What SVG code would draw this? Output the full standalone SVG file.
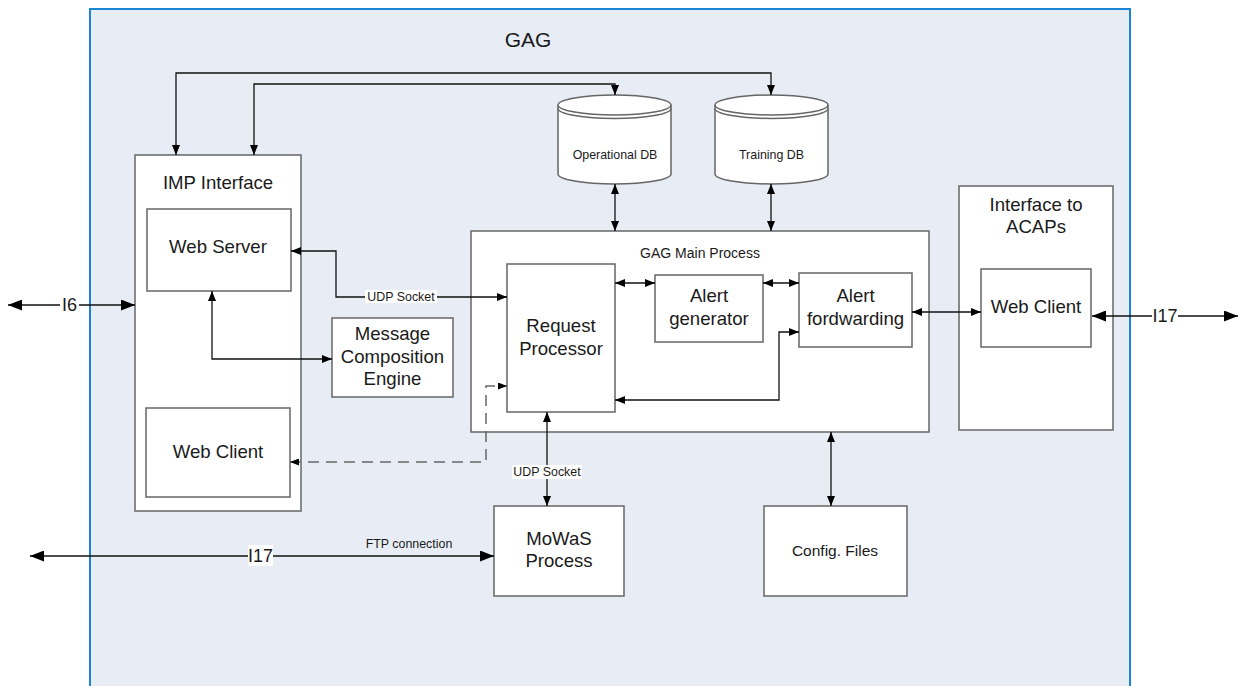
<svg xmlns="http://www.w3.org/2000/svg" width="1243" height="686" viewBox="0 0 1243 686">
  <style>
    .box { fill: #ffffff; stroke: #666666; stroke-width: 1.5; }
    .t { font-family: "Liberation Sans", Arial, sans-serif; fill: #1a1a1a; text-anchor: middle; }
    .big { font-size: 18.6px; }
    .mid { font-size: 14px; }
    .sm { font-size: 12.4px; }
    .conn { fill: none; stroke: #111111; stroke-width: 1.3; }
    .dash { fill: none; stroke: #666666; stroke-width: 1.5; stroke-dasharray: 11 7; }
    .lblbg { fill: #ffffff; }
  </style>
  <defs>
    <marker id="arr" markerUnits="userSpaceOnUse" markerWidth="10" markerHeight="8" refX="10" refY="4" orient="auto-start-reverse">
      <path d="M0,0 L10,4 L0,8 Z" fill="#000000"/>
    </marker>
    <marker id="arrBig" markerUnits="userSpaceOnUse" markerWidth="14" markerHeight="11" refX="14" refY="5.5" orient="auto-start-reverse">
      <path d="M0,0 L14,5.5 L0,11 Z" fill="#000000"/>
    </marker>
    <marker id="arrGray" markerUnits="userSpaceOnUse" markerWidth="9" markerHeight="7" refX="9" refY="3.5" orient="auto-start-reverse">
      <path d="M0,0 L9,3.5 L0,7 Z" fill="#000000"/>
    </marker>
  </defs>

  <!-- GAG boundary -->
  <g id="gag">
    <rect x="90" y="9" width="1040" height="690" fill="#e8edf5" stroke="#1c86d6" stroke-width="2"/>
    <text class="t" x="528" y="47" font-size="21">GAG</text>
  </g>

  <!-- IMP Interface -->
  <g id="imp-interface">
    <rect class="box" x="135" y="155" width="166" height="356"/>
    <text class="t big" x="218" y="189">IMP Interface</text>
  </g>
  <g id="web-server">
    <rect class="box" x="147" y="209" width="144" height="82"/>
    <text class="t big" x="218" y="253">Web Server</text>
  </g>
  <g id="web-client-imp">
    <rect class="box" x="146" y="408" width="144" height="89"/>
    <text class="t big" x="218" y="458">Web Client</text>
  </g>

  <!-- Message Composition Engine -->
  <g id="mce">
    <rect class="box" x="332" y="318" width="121" height="79"/>
    <text class="t big" x="392.5" y="340">Message</text>
    <text class="t big" x="392.5" y="363">Composition</text>
    <text class="t big" x="392.5" y="385">Engine</text>
  </g>

  <!-- Databases -->
  <g id="operational-db">
    <path class="box" d="M558,105 L558,174 A56.5,10 0 0 0 671,174 L671,105 A56.5,10 0 0 0 558,105 Z"/>
    <path class="box" d="M558,105 A56.5,10 0 0 0 671,105 M558,108.5 A56.5,10 0 0 0 671,108.5" style="fill:none"/>
    <text class="t sm" x="615" y="159">Operational DB</text>
  </g>
  <g id="training-db">
    <path class="box" d="M715,105 L715,174 A56.5,10 0 0 0 828,174 L828,105 A56.5,10 0 0 0 715,105 Z"/>
    <path class="box" d="M715,105 A56.5,10 0 0 0 828,105 M715,108.5 A56.5,10 0 0 0 828,108.5" style="fill:none"/>
    <text class="t sm" x="771.5" y="159">Training DB</text>
  </g>

  <!-- GAG Main Process -->
  <g id="gag-main-process">
    <rect class="box" x="471" y="231" width="458" height="201"/>
    <text class="t mid" x="700" y="258">GAG Main Process</text>
  </g>
  <g id="request-processor">
    <rect class="box" x="507" y="264" width="108" height="148"/>
    <text class="t big" x="561" y="332">Request</text>
    <text class="t big" x="561" y="355">Processor</text>
  </g>
  <g id="alert-generator">
    <rect class="box" x="655" y="275" width="108" height="67"/>
    <text class="t big" x="709" y="302">Alert</text>
    <text class="t big" x="709" y="325">generator</text>
  </g>
  <g id="alert-forwarding">
    <rect class="box" x="799" y="273" width="113" height="74"/>
    <text class="t big" x="855.5" y="302">Alert</text>
    <text class="t big" x="855.5" y="325">fordwarding</text>
  </g>

  <!-- Interface to ACAPs -->
  <g id="acap-interface">
    <rect class="box" x="959" y="186" width="154" height="244"/>
    <text class="t big" x="1036" y="211">Interface to</text>
    <text class="t big" x="1036" y="233">ACAPs</text>
  </g>
  <g id="web-client-acap">
    <rect class="box" x="981" y="269" width="110" height="78"/>
    <text class="t big" x="1036" y="313">Web Client</text>
  </g>

  <!-- MoWaS and config -->
  <g id="mowas-process">
    <rect class="box" x="494" y="506" width="130" height="90"/>
    <text class="t big" x="559" y="545">MoWaS</text>
    <text class="t big" x="559" y="567">Process</text>
  </g>
  <g id="config-files">
    <rect class="box" x="764" y="506" width="143" height="90"/>
    <text class="t" x="835" y="556" font-size="15.5">Config. Files</text>
  </g>

  <!-- connectors -->
  <g id="connectors">
    <path class="conn" d="M176,155 L176,73 L771,73 L771,95" marker-start="url(#arr)" marker-end="url(#arr)"/>
    <path class="conn" d="M254,155 L254,84 L615,84 L615,95" marker-start="url(#arr)" marker-end="url(#arr)"/>
    <path class="conn" d="M615,184 L615,231" marker-start="url(#arr)" marker-end="url(#arr)"/>
    <path class="conn" d="M771,184 L771,231" marker-start="url(#arr)" marker-end="url(#arr)"/>
    <path class="conn" d="M8,305 L135,305" marker-start="url(#arrBig)" marker-end="url(#arrBig)"/>
    <path class="conn" d="M291,251 L336,251 L336,297 L507,297" marker-start="url(#arr)" marker-end="url(#arr)"/>
    <path class="conn" d="M212,291 L212,359 L332,359" marker-start="url(#arr)" marker-end="url(#arr)"/>
    <path class="conn" d="M615,283 L655,283" marker-start="url(#arr)" marker-end="url(#arr)"/>
    <path class="conn" d="M763,283 L799,283" marker-start="url(#arr)" marker-end="url(#arr)"/>
    <path class="conn" d="M912,312 L981,312" marker-start="url(#arr)" marker-end="url(#arr)"/>
    <path class="conn" d="M799,332 L779,332 L779,400 L615,400" marker-start="url(#arr)" marker-end="url(#arr)"/>
    <path class="dash" d="M290,462 L486,462 L486,386 L507,386" marker-start="url(#arrGray)" marker-end="url(#arrGray)"/>
    <path class="conn" d="M547,412 L547,506" marker-start="url(#arr)" marker-end="url(#arr)"/>
    <path class="conn" d="M831,432 L831,506" marker-start="url(#arr)" marker-end="url(#arr)"/>
    <path class="conn" d="M30,556 L494,556" marker-start="url(#arrBig)" marker-end="url(#arrBig)"/>
    <path class="conn" d="M1092,316 L1238,316" marker-start="url(#arrBig)" marker-end="url(#arrBig)"/>

    <!-- connector labels -->
    <rect class="lblbg" x="60" y="296" width="19" height="18"/>
    <text class="t" x="69.5" y="311" font-size="18">I6</text>
    <rect class="lblbg" x="365" y="290" width="72" height="13"/>
    <text class="t sm" x="401" y="301">UDP Socket</text>
    <rect class="lblbg" x="512" y="465" width="70" height="14"/>
    <text class="t sm" x="547" y="476">UDP Socket</text>
    <text class="t sm" x="409" y="548">FTP connection</text>
    <rect class="lblbg" x="248" y="545" width="25" height="21"/>
    <text class="t" x="260.5" y="562" font-size="18">I17</text>
    <rect class="lblbg" x="1152" y="306" width="26" height="20"/>
    <text class="t" x="1165" y="322" font-size="18">I17</text>
  </g>
</svg>
